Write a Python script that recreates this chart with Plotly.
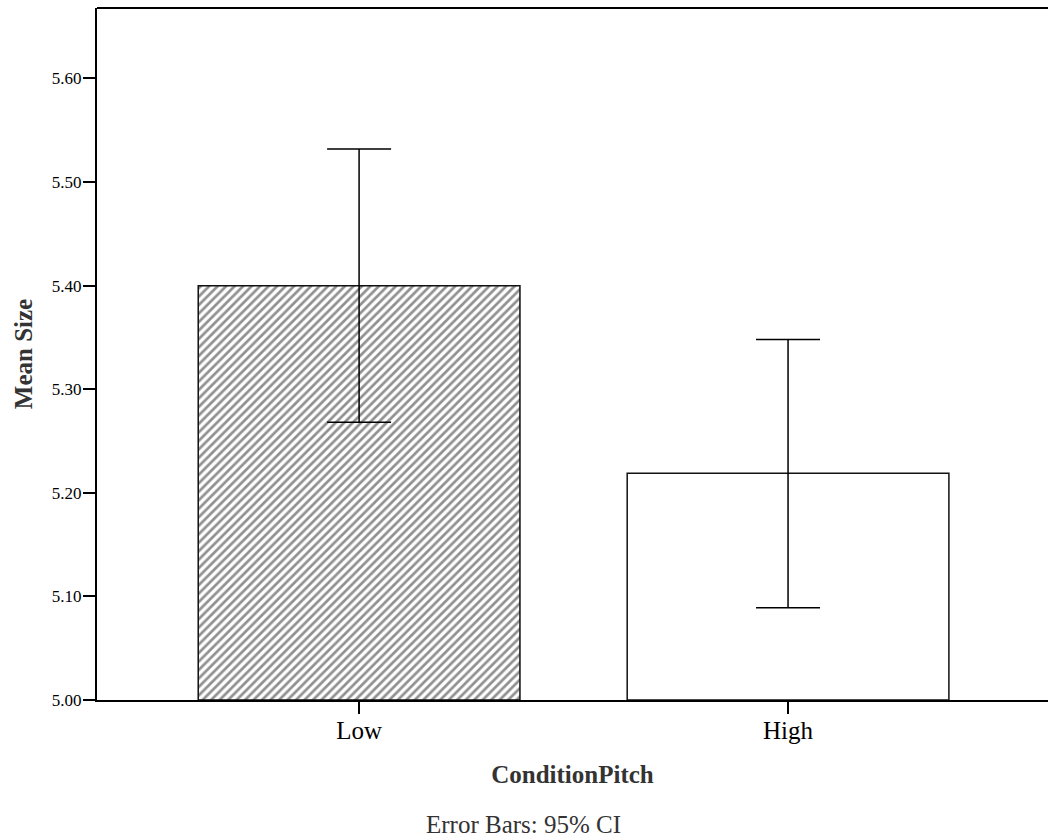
import plotly.graph_objects as go

categories = ["Low", "High"]
means = [5.400, 5.219]
ci_upper = [5.532, 5.348]
ci_lower = [5.268, 5.089]
y_ticks = [5.00, 5.10, 5.20, 5.30, 5.40, 5.50, 5.60]
y_tick_labels = ["5.00", "5.10", "5.20", "5.30", "5.40", "5.50", "5.60"]

err_plus = [u - m for u, m in zip(ci_upper, means)]
err_minus = [m - l for m, l in zip(means, ci_lower)]

fig = go.Figure()
fig.add_trace(go.Bar(
    x=categories,
    y=[m - 5.0 for m in means],
    base=5.0,
    width=0.75,
    marker=dict(
        color="white",
        line=dict(color="#111", width=1.5),
        pattern=dict(shape=["/", ""], fgcolor="#222", bgcolor="white",
                     size=6, solidity=0.45, fillmode="overlay"),
    ),
    error_y=dict(type="data", symmetric=False, array=err_plus, arrayminus=err_minus,
                 color="black", thickness=1.5, width=32),
    showlegend=False,
))

font_serif = "Liberation Serif"
fig.update_layout(
    width=1048, height=840,
    margin=dict(l=97, r=0, t=8, b=140),
    paper_bgcolor="white", plot_bgcolor="white",
    font=dict(family=font_serif, color="black"),
    bargap=0.25,
    xaxis=dict(
        range=[-0.611, 1.606], showline=True, linecolor="black", linewidth=2,
        ticks="outside", ticklen=12, tickwidth=2, tickcolor="black",
        tickfont=dict(size=25, family=font_serif, color="black"),
        ticklabelstandoff=-5,
        showgrid=False, zeroline=False,
        title=dict(text="<b>ConditionPitch</b>", font=dict(size=25, family=font_serif, color="#333"),
                   standoff=22),
    ),
    yaxis=dict(
        range=[5.0, 5.668], showline=True, linecolor="black", linewidth=2,
        tickmode="array", tickvals=y_ticks, ticktext=y_tick_labels,
        ticks="outside", ticklen=12, tickwidth=2, tickcolor="black",
        tickfont=dict(size=17, family=font_serif, color="black"),
        ticklabelstandoff=-2,
        showgrid=False, zeroline=False,
        title=dict(text="<b>Mean Size</b>", font=dict(size=25, family=font_serif, color="#333"),
                   standoff=12),
    ),
    shapes=[dict(type="line", xref="paper", yref="paper", x0=0, x1=1, y0=1, y1=1,
                 line=dict(color="black", width=2))],
    annotations=[dict(text="Error Bars: 95% CI", xref="paper", yref="paper",
                      x=0.449, y=-0.158, yanchor="top", xanchor="center", showarrow=False,
                      font=dict(size=25, family=font_serif, color="#333"))],
)

fig.write_html("out.html")
